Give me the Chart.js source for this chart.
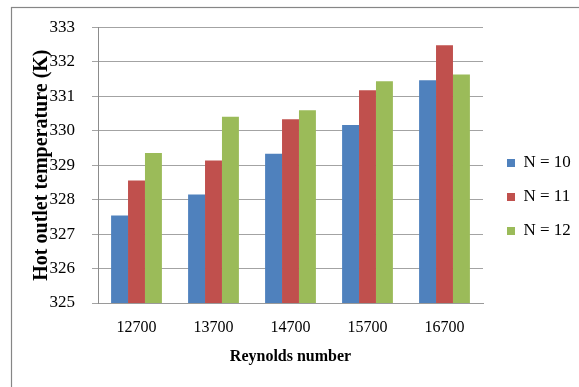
<!DOCTYPE html>
<html>
<head>
<meta charset="utf-8">
<script src="https://cdn.jsdelivr.net/npm/chart.js@4/dist/chart.umd.min.js"></script>
<style>
  html, body { margin: 0; padding: 0; background: #ffffff; }
  #wrap { width: 579px; height: 387px; position: relative; }
</style>
</head>
<body>
<div id="wrap"><canvas id="c" width="579" height="387"></canvas></div>
<script>
// Reynolds number categories
const reynolds = ['12700', '13700', '14700', '15700', '16700'];

// Hot outlet temperature (K) for each number of elements N
const tempN10 = [327.54, 328.15, 329.33, 330.16, 331.46];
const tempN11 = [328.55, 329.13, 330.33, 331.17, 332.48];
const tempN12 = [329.35, 330.40, 330.59, 331.43, 331.63];

const seriesNames = ['N = 10', 'N = 11', 'N = 12'];
const yTicks = [325, 326, 327, 328, 329, 330, 331, 332, 333];

const FONT = 'Liberation Serif';

// White page with the thin grey frame around the chart
const framePlugin = {
  id: 'frame',
  beforeDraw(chart) {
    const ctx = chart.ctx;
    ctx.save();
    ctx.fillStyle = '#ffffff';
    ctx.fillRect(0, 0, chart.width, chart.height);
    ctx.strokeStyle = '#868686';
    ctx.lineWidth = 1.2;
    ctx.strokeRect(11.5, 7.5, 640, 420);
    ctx.restore();
  }
};

// Fixed legend column width, and legend placed beside the plot, centred in the frame
const LEGEND_W = 96;
const LEGEND_BOX_X = 507;
const LEGEND_FIRST_CENTER_Y = 163;
const legendPlacement = {
  id: 'legendPlacement',
  beforeLayout(chart) {
    const lg = chart.legend;
    if (lg && !lg._fixedWidth) {
      const fit = lg.fit.bind(lg);
      lg.fit = function () { fit(); this.width = LEGEND_W; };
      lg._fixedWidth = true;
    }
  },
  afterLayout(chart) {
    const lg = chart.legend;
    if (!lg) return;
    const pad = lg.options.labels.padding;
    const dx = LEGEND_BOX_X - (lg.left + pad);
    lg.left += dx; lg.right += dx;
    const itemH = lg.options.labels.font.size;
    if (lg.columnSizes && lg.columnSizes[0]) {
      const curTop = (lg.top + pad + lg.bottom - lg.columnSizes[0].height) / 2;
      const dy = (LEGEND_FIRST_CENTER_Y - itemH / 2) - curTop;
      lg.top += dy; lg.bottom += dy;
    }
  }
};

new Chart(document.getElementById('c'), {
  type: 'bar',
  data: {
    labels: reynolds,
    datasets: [
      { label: seriesNames[0], data: tempN10, backgroundColor: '#4F81BD' },
      { label: seriesNames[1], data: tempN11, backgroundColor: '#C0504D' },
      { label: seriesNames[2], data: tempN12, backgroundColor: '#9BBB59' }
    ]
  },
  options: {
    responsive: false,
    animation: false,
    devicePixelRatio: 1,
    layout: { padding: { top: 27, left: 0, right: 0, bottom: 0 } },
    datasets: {
      bar: { categoryPercentage: 0.66, barPercentage: 1.0, borderWidth: 0 }
    },
    plugins: {
      title: { display: false },
      tooltip: { enabled: false },
      legend: {
        position: 'right',
        align: 'center',
        labels: {
          boxWidth: 8,
          boxHeight: 8,
          padding: 17,
          color: '#000000',
          font: { family: FONT, size: 17 }
        }
      }
    },
    scales: {
      x: {
        grid: { display: false, drawTicks: false },
        border: { display: true, color: '#9a9a9a', width: 1 },
        ticks: { color: '#000000', padding: 15, font: { family: FONT, size: 16 } },
        title: {
          display: true,
          text: 'Reynolds number',
          color: '#000000',
          font: { family: FONT, size: 16, weight: 'bold' },
          padding: { top: 0, bottom: 21 }
        },
        afterFit(scale) { scale.height = 84; }
      },
      y: {
        min: yTicks[0],
        max: yTicks[yTicks.length - 1],
        afterBuildTicks(scale) { scale.ticks = yTicks.map(v => ({ value: v })); },
        grid: { color: '#a3a3a3', lineWidth: 1, tickLength: 6, drawTicks: true },
        border: { display: true, color: '#8c8c8c', width: 1 },
        ticks: { color: '#000000', padding: 17, font: { family: FONT, size: 17 } },
        title: {
          display: true,
          text: 'Hot outlet temperature (K)',
          color: '#000000',
          font: { family: FONT, size: 20, weight: 'bold' },
          padding: { top: 30, bottom: 0 }
        },
        afterFit(scale) { scale.width = 98; }
      }
    }
  },
  plugins: [framePlugin, legendPlacement]
});
</script>
</body>
</html>
